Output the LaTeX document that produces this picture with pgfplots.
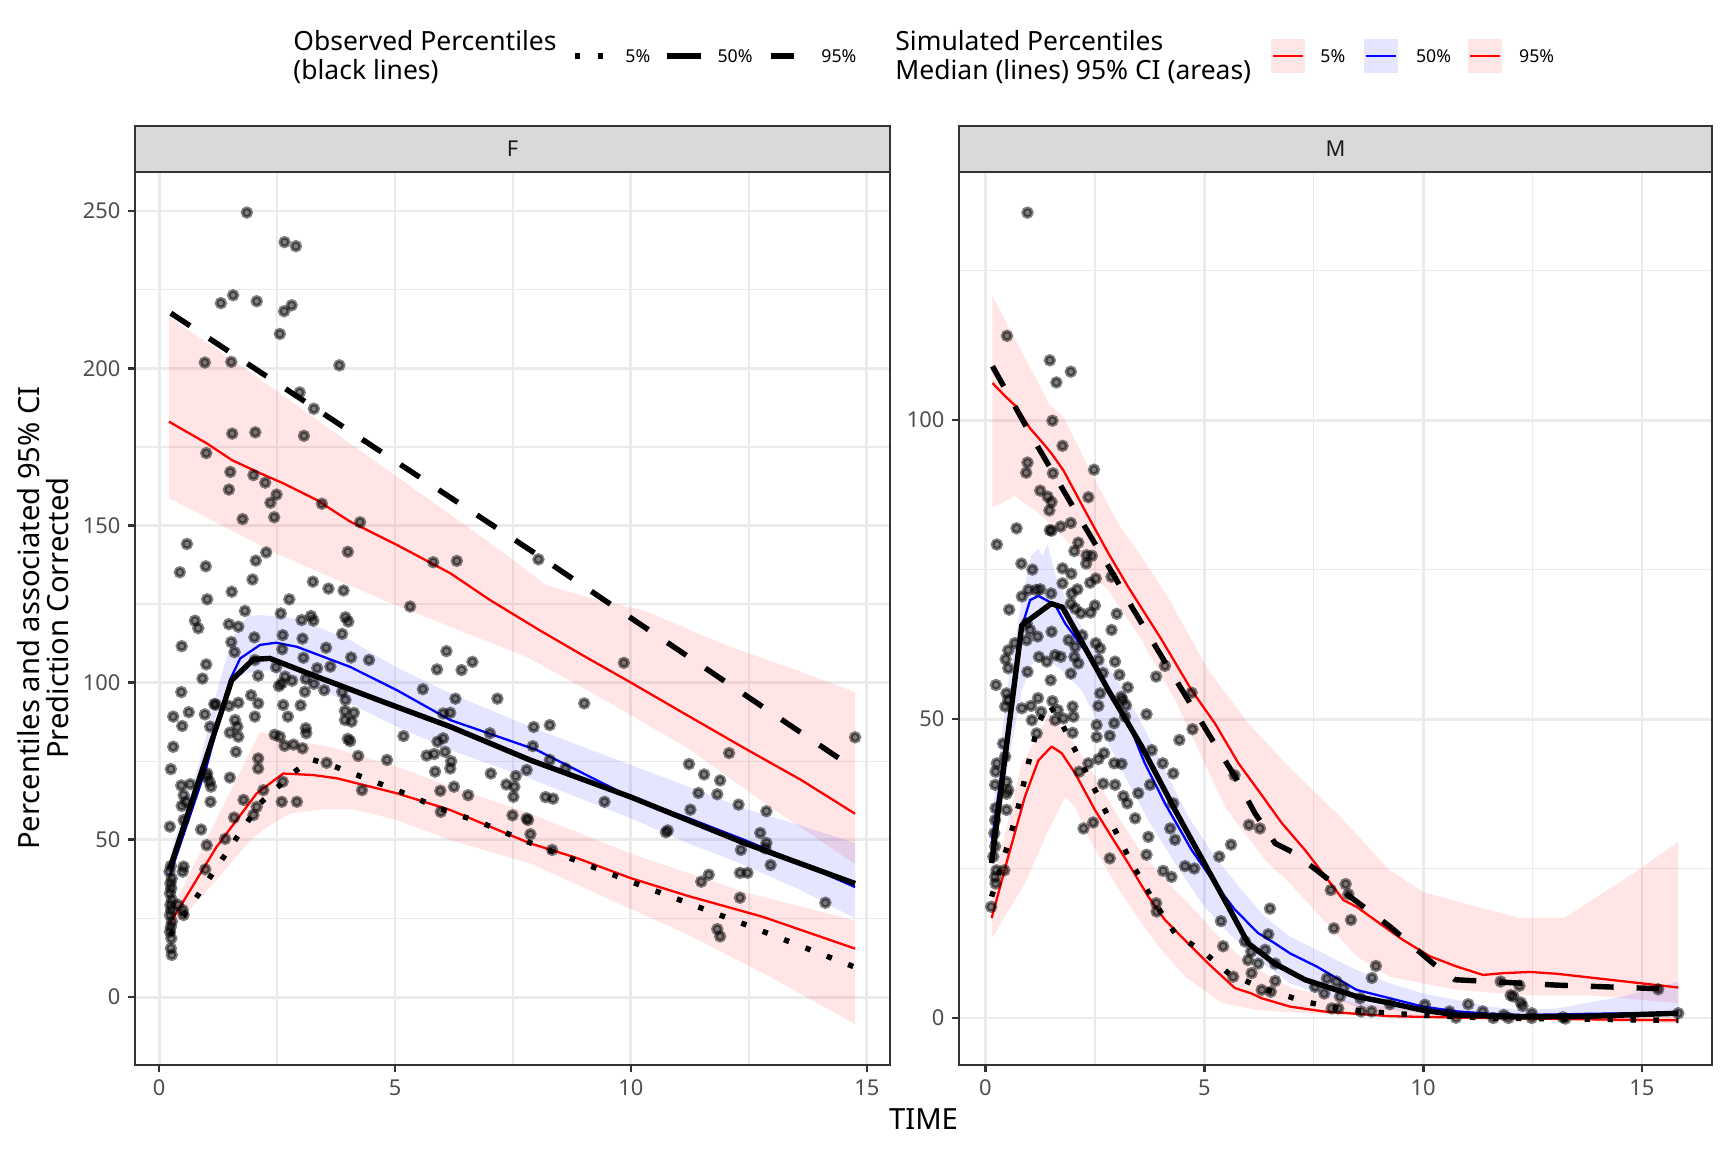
\documentclass[border=0pt]{standalone}
\usepackage{pgfplots}
\pgfplotsset{compat=1.18}
\usepackage{fontspec}
\setmainfont{Noto Sans}
\definecolor{gridc}{HTML}{EBEBEB}
\definecolor{frame}{HTML}{333333}
\definecolor{ticklab}{HTML}{4D4D4D}
\definecolor{stripfill}{HTML}{D9D9D9}
\definecolor{striptext}{HTML}{1A1A1A}
\pgfplotsset{
  panel/.style={
    scale only axis, height=428.64pt, anchor=south west, clip=false,
    axis line style={frame, line width=1.3pt},
    tick align=outside, tick pos=left,
    major tick length=3.5pt, minor tick length=0pt,
    tick style={frame, line width=1.3pt},
    grid=both,
    major grid style={gridc, line width=1.4pt},
    minor grid style={gridc, line width=0.7pt},
    tick label style={font=\fontsize{10.5}{12}\selectfont, text=ticklab},
    /pgf/number format/assume math mode=true,
    xtick={0,5,10,15}, minor xtick={2.5,7.5,12.5},
  },
  pts/.style={only marks, mark=*, mark size=2.1pt,
    mark options={fill=black, draw=black, fill opacity=0.5, draw opacity=0.5, line width=1.7pt}},
  bandr/.style={draw=none, fill=red, fill opacity=0.1},
  bandb/.style={draw=none, fill=blue, fill opacity=0.1},
  simr/.style={red, line width=1.1pt, line join=round, no marks},
  simb/.style={blue, line width=1.1pt, line join=round, no marks},
  obs/.style={black, line width=2.6pt, line join=round, no marks},
  obsdash/.style={obs, dash pattern=on 11pt off 11pt},
  obsdot/.style={obs, dash pattern=on 2.6pt off 8.4pt},
}
\begin{document}
\begin{tikzpicture}
\useasboundingbox (0,0) rectangle (829.44pt,552.96pt);

% ---------------- Panel F ----------------
\begin{axis}[panel, at={(64.8pt,41.76pt)}, width=362.4pt,
  xmin=-0.51, xmax=15.49, ymin=-21.6, ymax=262.4,
  ytick={0,50,100,150,200,250}, minor ytick={25,75,125,175,225}]
\addplot[pts] coordinates {
(1.86,249.5) (2.66,240.1) (2.90,238.8) (1.31,220.7) (1.57,223.2) (2.07,221.3) (2.81,220) (2.65,218.1) (2.56,210.9) (0.97,201.8) (1.53,202) (3.82,200.9) (2.98,192.3) (3.28,187.1) (1.55,179.2) (2.04,179.6) (3.07,178.5) (1.0,173) (1.51,167) (2.0,166) (2.25,163.6) (1.48,161.4) (2.49,159.8) (2.36,157.2) (3.45,156.9) (1.77,152) (2.44,152.6) (4.26,151) (0.59,144.1) (2.27,141.4) (4.0,141.6) (2.05,138.8) (5.81,138.3) (6.31,138.7) (0.44,135.1) (0.99,137) (1.98,132.8) (1.54,128.9) (3.26,132.1) (3.59,129.9) (3.91,129.3) (1.02,126.5) (2.76,126.5) (8.04,139.2)
(5.32,124.2) (0.76,119.7) (0.83,117.3) (1.82,122.8) (1.48,118.6) (1.68,117.8) (2.58,122) (3.02,119.9) (3.22,121.2) (3.27,119.7) (3.95,120.8) (4.01,119.4) (3.88,115.5) (0.48,111.6) (1.53,112.9) (1.6,109.7) (2.02,114.4) (2.62,115.1) (3.04,114) (3.54,111.1) (2.61,110.6) (3.06,107.9) (3.35,104.6) (3.63,105.1) (4.07,108) (4.45,107.2) (6.09,110) (5.89,104.2) (6.41,104) (6.64,106.6) (1.0,105.8) (0.92,101.3) (2.03,107.2) (2.1,102.2) (2.48,104.9) (2.67,101.9) (2.6,99.8) (2.54,98.9) (2.82,100.6) (3.11,101.2) (3.09,97.1) (3.28,99.6) (3.5,97.6) (3.88,97.1) (3.95,94.5) (3.94,91) (4.13,90.4) (3.94,88.1) (4.08,87.6) (4.0,82.1) (4.05,81.4) (5.59,97.9) (6.28,94.9) (7.17,94.9) (6.02,90.2) (6.17,90.4) (7.01,83.9) (0.47,97) (0.3,89.2) (0.49,86.2) (0.63,90.6) (0.97,89.9) (1.17,93.2) (1.2,93.0) (1.68,93.6) (1.48,92.6) (1.95,96) (2.1,93.4) (2.03,89.2) (1.61,88.1) (1.66,86) (1.5,84.1) (1.68,82.8) (1.08,86) (2.63,92.9) (2.73,89.2) (3.0,92.8) (3.11,85.5) (3.12,83.9) (2.45,83.4) (2.56,82.8) (2.66,79.9) (2.85,80.3) (3.04,79.1) (0.3,79.6) (1.63,78) (2.1,75.9) (2.1,72.7) (4.22,76.7) (4.83,75.4) (5.18,83) (5.9,81.2) (6.02,82.3) (6.06,78) (5.83,77.3) (5.67,76.8) (6.19,75) (6.17,72.7) (5.85,71.7) (7.03,71.1) (7.56,70.3) (7.36,67.6) (7.53,66.9) (7.51,63.7) (7.79,72.2) (6.25,66.9) (5.96,65.6) (6.55,64.2) (7.49,57.8) (7.79,56.8) (5.97,58.9) (4.3,65.8) (3.55,74.5) (0.25,72.5) (1.02,71.1) (1.01,70.1) (1.07,68.5) (1.1,66.9) (1.5,69.8) (0.47,67.3) (0.66,67.7) (0.52,64.2) (0.57,62.1) (0.48,60.8) (1.09,62.1) (0.23,54.2) (0.89,53.3) (0.52,56.3) (1.01,48.3) (1.4,50.3) (1.59,57.1) (1.79,62.7) (2.0,57.9) (2.07,60.5) (2.21,65.8) (2.62,68.5) (2.6,62.1) (2.92,62.1) (0.98,40.6) (0.52,41.5) (0.5,39.9) (0.5,27.7) (0.52,26.1) (0.4,29.3)
(0.25,41.7) (0.22,39.9) (0.27,37.7) (0.24,36.2) (0.26,34.6) (0.23,33) (0.27,30.9) (0.24,29.3) (0.26,27.7) (0.23,26.1) (0.27,24) (0.25,22.4) (0.23,20.8) (0.26,18.7) (0.25,15.5) (0.27,13.4)
(9.85,106.3) (9.01,93.4) (7.94,85.9) (8.28,86.5) (7.92,79.8) (8.28,75.4) (8.61,72.7) (8.19,63.6) (8.35,63.1) (9.44,62.1) (8.33,46.8) (10.74,52.4) (10.78,53) (11.23,74.1) (11.55,70.8) (11.89,68.9) (11.43,64.9) (11.83,64.5) (11.26,59.6) (12.08,77.6) (12.28,61.2) (12.87,59.1) (12.74,52.2) (12.87,49) (12.85,47.3) (12.33,46.8) (12.96,42) (11.65,38.9) (11.49,36.7) (12.31,39.5) (12.47,39.5) (12.31,31.6) (11.83,21.6) (11.89,19.3) (14.12,30) (14.75,82.6) (7.82,56.3) (7.87,51.8)
};
% bands
\addplot[bandr] coordinates {
(0.21,216.4) (2,198) (4.05,176) (5.04,165.5) (6.5,150) (7.5,139) (8.2,131) (9,127.5) (10.3,122.8) (12,112) (13.5,104) (14.75,97)
(14.75,42.3) (13,60) (11.2,79.2) (9.5,94) (7.86,107.7) (4.75,126.3) (2.5,141) (0.21,158.6)
} -- cycle;
\addplot[bandb] coordinates {
(0.23,45) (0.87,75.4) (1.29,100.8) (1.57,114.6) (1.86,121) (2.14,121.5) (2.92,120.4) (4.05,113.5) (5.0,105.1) (6.17,96.6) (7.86,86) (10,73.8) (11.2,67) (12.4,60) (13.5,55) (14.75,49)
(14.75,25) (13.6,34) (12.4,42) (11.2,49) (10,56.8) (7.86,69.5) (6.17,78.6) (5.04,86) (3.76,95.5) (2.78,101.9) (2.28,104) (1.86,103) (1.5,100.8) (1.22,90.2) (0.8,66.9) (0.23,37.7)
} -- cycle;
\addplot[bandr] coordinates {
(0.23,26.6) (2.14,84.4) (2.78,81.7) (3.62,79.6) (5.04,73.3) (6.17,66.9) (7.86,58.4) (10,45.6) (12.4,33.4) (14.75,24.4)
(14.75,-8.6) (13,6) (11.2,19.9) (10,28) (7.86,42.5) (6.17,49.9) (5.04,56.3) (4.12,59.7) (3.48,59.7) (2.78,58.4) (2.35,54.7) (1.93,49.9) (1.22,37.2) (0.23,21)
} -- cycle;
% simulated lines
\addplot[simr] coordinates {(0.21,183) (1.01,176.1) (1.54,170.8) (2.14,166.6) (2.63,163.4) (3.34,158.1) (4.05,151.2) (5.04,143.8) (6.17,134.8) (7.01,126.3) (8.06,116.7) (9.0,108.5) (10,100) (11.23,89.3) (12.4,79.2) (13.6,69.1) (14.75,58.3)};
\addplot[simb] coordinates {(0.23,38.8) (1.0,73) (1.5,100.8) (1.72,107.7) (2.14,112) (2.48,112.7) (2.92,111.4) (4.05,105) (5.04,97.6) (6.17,88.1) (8.0,78.6) (10,63.5) (11.2,57) (12.4,50) (13.6,42.5) (14.75,35)};
\addplot[simr] coordinates {(0.23,23.4) (1.22,47.8) (2.07,64.8) (2.63,71.1) (3.27,70.6) (3.76,69.6) (5.04,64.8) (6.17,59.5) (7.86,48.9) (8.8,44.5) (10,37.8) (11.2,32.2) (12.8,25.5) (14.75,15.4)};
% observed lines
\addplot[obsdash] coordinates {(0.25,217.5) (7.86,142.2) (14.75,72.5)};
\addplot[obs] coordinates {(0.23,40.9) (1.54,100.8) (2.0,107.4) (2.35,107.7) (3.34,101.9) (4.75,93.9) (6.17,86) (7.86,75.4) (10.0,63.6) (12.4,49) (14.75,36.1)};
\addplot[obsdot] coordinates {(0.23,19.7) (0.8,31.9) (1.61,49.9) (2.14,61.6) (2.85,71.4) (3.23,75.6) (3.69,73.5) (5.04,65.8) (5.95,60) (6.87,55.2) (7.72,49.9) (10,36.7) (12.4,23.2) (14.75,9.5)};
% strip
\draw[frame, line width=1.3pt, fill=stripfill] (rel axis cs:0,1) rectangle ([yshift=22.08pt]rel axis cs:1,1);
\node[font=\fontsize{10.5}{12}\selectfont, text=striptext] at ([yshift=11.04pt]rel axis cs:0.5,1) {F};
\end{axis}

% ---------------- Panel M ----------------
\begin{axis}[panel, at={(460.32pt,41.76pt)}, width=361.44pt,
  xmin=-0.605, xmax=16.6, ymin=-7.86, ymax=141.5,
  ytick={0,50,100}, minor ytick={25,75,125}]
\addplot[pts] coordinates {
(0.96,134.7) (0.49,114.1) (1.47,110) (1.95,108.1) (1.62,106.3) (1.53,99.9) (1.76,95.7) (2.48,91.7) (0.96,92.9) (0.93,91.2) (1.54,91.1) (1.25,88.2) (1.42,87.2) (1.51,86.3) (1.46,84.9) (2.35,87.1) (1.95,82.8) (1.72,82.2) (1.47,81.6) (1.51,81.5) (0.71,81.9) (0.26,79.2) (2.12,79.5) (2.03,78.1) (2.31,77.4) (2.43,77.3) (2.3,76) (0.82,76) (1.07,75) (1.76,75.2) (1.96,74.3) (1.76,72.7) (2.39,72.8) (2.52,73.5) (2.88,73.8) (2.1,71.7) (1.97,71) (0.98,71.6) (1.16,71.6) (1.25,71.7) (1.5,71) (0.83,70.5)
(0.54,68.3) (1.95,69.3) (2.05,68.5) (2.18,67.7) (2.4,67.8) (2.5,69) (3.0,67.6) (2.88,64.9) (0.94,66) (1.02,64.9) (1.19,63.8) (1.51,64.6) (0.94,63.2) (0.67,62.7) (0.52,61.5) (0.46,60) (0.52,58.5) (1.22,60.4) (1.4,59.6) (1.59,60.7) (1.72,60.4) (1.9,63.2) (2.05,62.1) (2.21,64) (2.52,62.7) (2.62,61.8) (2.03,60.4) (2.12,59.3) (2.58,59.9) (2.96,59.6) (2.68,57.7) (3.06,57.4) (0.96,57.9) (1.49,56.5) (1.95,57.6) (3.25,55.3) (3.9,57.1) (4.1,58.9) (4.71,54.4) (0.24,55.7) (0.48,54.3) (0.52,53.2) (0.45,52.1) (0.83,51.8) (1.04,52.2) (1.2,53.5) (1.53,53) (1.27,51.2) (1.65,51.5) (1.06,49.8) (1.59,49.8) (1.78,50.1) (1.99,52.1) (2.01,50.4) (2.62,54.3) (3.1,53.7) (3.21,52.3) (3.13,53.2) (2.58,52.2) (3.19,50.4) (2.94,49.3) (2.54,49) (2.54,47) (2.84,47.2) (1.99,47.7) (1.17,47.6) (3.68,50.8) (4.73,48.3) (4.43,46.5) (0.4,45.9) (0.45,43.7) (0.26,42.6) (0.23,41.2) (0.48,39.5) (0.52,38.1) (0.22,39) (0.48,37.5) (0.23,35.1) (0.48,34.8) (0.22,33.1) (0.2,30.9) (0.22,28.7) (0.18,27) (0.25,24.7) (0.43,24.7) (0.22,23.6) (0.23,22.5) (0.13,18.6) (3.8,44.8) (4.05,42.6) (4.29,40.9) (2.71,44.3) (2.58,43.3) (2.35,42.6) (2.14,41.2) (2.94,42.6) (3.11,42.5) (2.69,39.2) (2.96,39) (3.15,37.1) (3.24,35.9) (3.49,37.6) (3.76,39) (4.29,35.9) (3.42,33.4) (3.72,30.3) (4.22,31.7) (4.33,29.8) (2.24,31.7) (2.46,32.7) (3.68,27.3) (2.84,26.7) (4.06,24.6) (4.25,23.6) (4.56,25.4) (4.77,25) (5.34,27) (5.61,29) (5.69,40.6) (6.02,32.3) (6.27,31.7) (3.9,19.2) (3.91,17.8) (5.38,16.2) (6.5,18.3) (6.46,14) (5.43,12) (5.93,12.8) (6.07,11.1) (6.39,11.4) (6.23,9.1) (6.0,9.7) (6.62,9.1) (6.08,7.5) (5.66,6.9) (6.62,6.2) (6.31,4.7) (6.52,4.4)
(8.23,22.4) (7.89,21.4) (8.29,20.7) (8.35,16.4) (7.96,15) (8.92,8.7) (8.83,6.7) (7.53,5.2) (7.8,6.6) (8.02,6.1) (8.18,5) (7.74,4.1) (8.1,3.6) (8.56,3.3) (7.91,1.6) (8.06,1.6) (8.58,1.1) (8.82,1.1) (9.24,2.3) (10.04,2.2) (10.6,1.1) (10.75,0.05) (11.03,2.3) (11.36,1.1) (11.6,0) (11.77,6.1) (12.2,5.4) (12.0,3.8) (12.06,3.6) (12.23,2.6) (12.27,2.0) (11.84,0.5) (11.95,0) (12.48,0.8) (12.48,0) (13.19,0.1) (13.25,-0.1) (15.37,4.8) (15.83,0.8)
};
\addplot[bandr] coordinates {
(0.16,120.7) (1.47,102.5) (1.76,100.7) (2.5,90) (3.03,82.7) (3.57,77.1) (4.18,70.2) (5.09,58.2) (6.0,49.3) (7.0,41.5) (8.1,33.7) (9.24,24.7) (10.0,21.1) (10.92,19.2) (12.21,16.7) (13.24,16.8) (15.03,25.3) (15.83,29.5)
(15.83,2.5) (13.8,3.8) (12.29,3.8) (10.77,4.7) (10,5.8) (9.24,6.9) (8.48,10.3) (6.96,22.5) (6.39,26.4) (5.47,35.3) (4.94,43.7) (4.33,53.2) (3.57,63.2) (2.8,71.6) (2.5,73.5) (2.0,78.5) (1.6,82) (1.2,84.5) (0.67,87.3) (0.29,85.8) (0.16,85.5)
} -- cycle;
\addplot[bandb] coordinates {
(0.14,33) (0.5,55) (0.83,70) (1.05,77.4) (1.21,78.5) (1.3,77.2) (1.42,79.3) (1.6,74) (1.9,69) (2.27,64.5) (2.96,57) (3.57,49.3) (4.1,41.5) (4.63,33.7) (5.24,27) (5.85,21.4) (6.39,16.9) (6.96,13.6) (7.72,10.8) (8.48,8) (9.24,5.8) (10,4.1) (10.77,3) (11.53,1.9) (12.29,1.3) (13.05,1.6) (14.57,3.6) (15.83,6.1)
(15.83,0.2) (10,0.8) (8.48,1.9) (6.96,5.8) (6.23,9.7) (5.55,14.2) (4.94,19.2) (4.33,25.9) (3.72,33.1) (3.19,40.4) (2.65,48.2) (2.2,54.8) (1.74,58.2) (1.4,60) (1.13,60.4) (0.83,54.8) (0.5,42) (0.14,26)
} -- cycle;
\addplot[bandr] coordinates {
(0.14,21.4) (0.83,42.6) (1.28,48.2) (1.45,51) (1.97,46.5) (2.5,40.4) (3.03,33.7) (3.57,27.5) (4.18,22.5) (4.71,18.6) (5.4,13) (6.08,8.6) (7.0,5) (8.48,2.5) (10,1.1) (15.83,0.2)
(15.83,-0.9) (7.3,0.8) (6.23,1.3) (5.4,2.5) (4.56,6.9) (4.02,11.4) (3.57,15.8) (2.96,22.5) (2.43,29.2) (2.05,35.3) (1.82,37) (1.44,31.4) (0.9,22.5) (0.14,13.3)
} -- cycle;
\addplot[simr] coordinates {(0.16,106.2) (0.45,104) (0.71,102.2) (1.02,98.6) (1.32,96.1) (1.51,94.4) (1.78,91.6) (2.27,84.9) (2.81,77.7) (3.26,72.1) (4.03,63.2) (4.71,54.8) (5.24,49.3) (5.78,42.6) (6.23,38.1) (6.77,32.6) (7.3,28.1) (8.18,19.7) (8.48,18.6) (9.01,15.8) (9.55,13) (10.16,10.3) (10.77,8.6) (11.37,7.2) (11.83,7.5) (12.44,7.7) (13.05,7.4) (15.83,5.1)};
\addplot[simb] coordinates {(0.14,29.2) (0.52,49.3) (0.83,65.4) (1.02,69.9) (1.21,70.6) (1.59,69.1) (1.82,66) (2.27,61.5) (2.81,54.8) (3.27,49.3) (3.64,42.6) (4.1,35.9) (4.71,28.1) (5.24,22.5) (5.7,18.1) (6.23,14.2) (6.61,12.5) (6.96,10.8) (7.57,8.6) (8.48,4.7) (9.24,3.3) (10,1.9) (10.77,1.1) (11.53,0.7) (12.29,0.5) (13.8,0.7) (15.83,0.9)};
\addplot[simr] coordinates {(0.14,16.7) (0.52,27) (0.9,37) (1.21,43.1) (1.51,45.4) (1.74,44.3) (2.05,40.9) (2.5,34.8) (2.88,30.3) (3.26,25.9) (3.72,20.3) (4.1,16.4) (4.56,13) (5.09,9.1) (5.7,5) (6.08,4.1) (6.31,3.3) (6.96,1.9) (7.72,1.1) (9.24,0.3) (11.3,0) (15.83,-0.4)};
\addplot[obsdash] coordinates {(0.16,109) (1.0,98) (2.0,85.5) (3.0,73.2) (3.34,68.8) (4.03,60.4) (4.63,53.2) (5.09,47.6) (5.7,40.4) (6.16,34.2) (6.62,29.2) (7.0,27.8) (7.57,24.7) (8.33,20.3) (9.24,15.3) (10.23,9.1) (10.73,6.4) (11.53,6.1) (13.05,5.5) (15.4,4.9)};
\addplot[obs] coordinates {(0.14,25.9) (0.83,65.7) (1.5,69.3) (1.76,68.7) (2.05,64.9) (2.81,54.8) (3.57,45.4) (4.33,34.8) (5.09,24.7) (5.55,18.6) (6.0,12.5) (6.61,9.1) (7.3,6.4) (8.48,3.6) (9.24,2.5) (10,1.3) (10.77,0.5) (12.29,0.2) (13.8,0.3) (15.83,0.8)};
\addplot[obsdot] coordinates {(0.14,20.3) (0.52,29.2) (0.75,35.3) (0.98,42.6) (1.21,49.3) (1.44,52.6) (1.74,49.3) (2.05,44.8) (2.43,39.2) (2.88,32.6) (3.34,25.9) (3.87,19.2) (4.33,14.2) (5.02,10.8) (5.55,7.5) (6.31,5) (6.84,3.8) (7.3,2.7) (8.33,1.3) (9.85,0.5) (11.53,0) (15.83,-0.4)};
\draw[frame, line width=1.3pt, fill=stripfill] (rel axis cs:0,1) rectangle ([yshift=22.08pt]rel axis cs:1,1);
\node[font=\fontsize{10.5}{12}\selectfont, text=striptext] at ([yshift=11.04pt]rel axis cs:0.5,1) {M};
\end{axis}

% ---------------- axis titles ----------------
\node[rotate=90, anchor=base, font=\fontsize{14}{16}\selectfont] at (19.2pt,256.3pt) {Percentiles and associated 95\% CI};
\node[rotate=90, anchor=base, font=\fontsize{14}{16}\selectfont] at (33.1pt,256.3pt) {Prediction Corrected};
\node[anchor=base, font=\fontsize{14}{16}\selectfont] at (443.3pt,10.56pt) {TIME};

% ---------------- legend ----------------
\begin{scope}[every node/.style={inner sep=0pt}]
\node[anchor=base west, font=\fontsize{12.7}{14}\selectfont] at (140.64pt,528.5pt) {Observed Percentiles};
\node[anchor=base west, font=\fontsize{12.7}{14}\selectfont] at (140.64pt,514.6pt) {(black lines)};
\draw[black, line width=2.6pt, dash pattern=on 2.6pt off 8.4pt] (276pt,526.1pt) -- (292.3pt,526.1pt);
\node[anchor=west, font=\fontsize{8.5}{10}\selectfont] at (300pt,526.1pt) {5\%};
\draw[black, line width=2.6pt] (320.2pt,526.1pt) -- (336.5pt,526.1pt);
\node[anchor=west, font=\fontsize{8.5}{10}\selectfont] at (344.2pt,526.1pt) {50\%};
\draw[black, line width=2.6pt, dash pattern=on 11pt off 11pt] (370.1pt,526.1pt) -- (386.4pt,526.1pt);
\node[anchor=west, font=\fontsize{8.5}{10}\selectfont] at (394.1pt,526.1pt) {95\%};
\node[anchor=base west, font=\fontsize{12.7}{14}\selectfont] at (429.6pt,528.5pt) {Simulated Percentiles};
\node[anchor=base west, font=\fontsize{12.7}{14}\selectfont] at (429.6pt,514.6pt) {Median (lines) 95\% CI (areas)};
\fill[red, opacity=0.1] (610.1pt,517.9pt) rectangle (626.4pt,534.2pt);
\draw[red, line width=1.1pt] (610.9pt,526.1pt) -- (625.6pt,526.1pt);
\node[anchor=west, font=\fontsize{8.5}{10}\selectfont] at (633.6pt,526.1pt) {5\%};
\fill[blue, opacity=0.1] (654.7pt,517.9pt) rectangle (671.0pt,534.2pt);
\draw[blue, line width=1.1pt] (655.5pt,526.1pt) -- (670.2pt,526.1pt);
\node[anchor=west, font=\fontsize{8.5}{10}\selectfont] at (679.5pt,526.1pt) {50\%};
\fill[red, opacity=0.1] (704.6pt,517.9pt) rectangle (720.9pt,534.2pt);
\draw[red, line width=1.1pt] (705.4pt,526.1pt) -- (720.1pt,526.1pt);
\node[anchor=west, font=\fontsize{8.5}{10}\selectfont] at (729.0pt,526.1pt) {95\%};
\end{scope}
\end{tikzpicture}
\end{document}
